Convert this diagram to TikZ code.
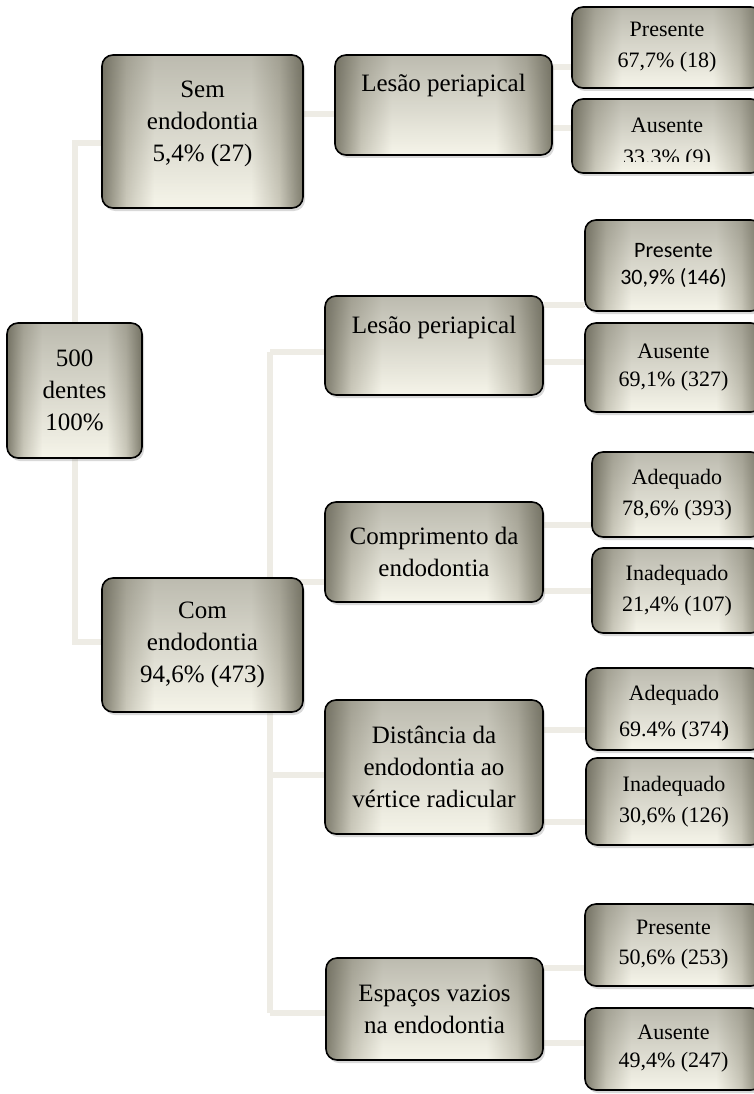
\documentclass[tikz,border=0pt]{standalone}
\usepackage{fontspec}
\setmainfont{Liberation Serif}
\newfontfamily\calibrifont{Carlito}
\usepackage{tikz}
\usetikzlibrary{shadows,fadings,backgrounds}

\definecolor{boxedge}{RGB}{128,126,111}
\definecolor{boxmid}{RGB}{204,202,188}
\definecolor{boxlight}{RGB}{246,245,234}
\definecolor{boxshade}{RGB}{95,93,80}
\definecolor{connlight}{RGB}{238,236,229}
\definecolor{conndark}{RGB}{204,202,193}

% light centre, grey sides
\pgfdeclarehorizontalshading{boxshading}{100bp}{
    color(0bp)=(boxedge); color(25bp)=(boxedge);
    color(31bp)=(boxmid); color(38bp)=(boxlight);
    color(62bp)=(boxlight); color(69bp)=(boxmid);
    color(75bp)=(boxedge); color(100bp)=(boxedge)}

\begin{document}
\begin{tikzpicture}[
    x=1pt, y=-1pt,
    box/.style={
        rounded corners=11pt,
        draw=black,
        line width=1.6pt,
        drop shadow={shadow xshift=2pt, shadow yshift=-3pt, opacity=.3},
        preaction={shade, shading=boxshading},
        preaction={fill=boxshade, path fading=south, fill opacity=.38},
        inner sep=0pt,
        align=center,
        text=black,
        font=\fontsize{25}{32}\selectfont
    },
    leaf/.style={
        box,
        font=\fontsize{22}{31}\selectfont
    },
    leaftext/.style={
        inner sep=0pt,
        align=center,
        text=black,
        font=\fontsize{22}{32}\selectfont
    },
    conn/.style={
        line width=6pt,
        draw=connlight,
        preaction={draw=conndark, transform canvas={shift={(1pt,-1.5pt)}}}
    }
]

\useasboundingbox (0,0) rectangle (754,1094);
\clip (0,0) rectangle (754,1094);

% ---------------- RAIZ ----------------

\node[box, minimum width=135pt, minimum height=135pt]
    (root) at (74.5,390.5) {500\\dentes\\100\%};

\node[box, minimum width=201pt, minimum height=153pt]
    (sem) at (202.5,131.5) {Sem\\endodontia\\5,4\% (27)\\[-12pt]\mbox{}};

\node[box, minimum width=201pt, minimum height=134pt]
    (com) at (202.5,645) {Com\\endodontia\\94,6\% (473)};


% ---------------- SEM ENDODONTIA ----------------

\node[box, minimum width=217pt, minimum height=100pt,
    text height=37pt, text depth=63pt]
    (les1) at (443.5,105) {Lesão periapical};

\node[leaf, minimum width=190pt, minimum height=81pt]
    (pres1) at (667,47.5) {Presente\\67,7\% (18)};

\node[leaf, minimum width=190pt, minimum height=74pt,
    path picture={
        \clip ([yshift=11pt]path picture bounding box.south west)
            rectangle (path picture bounding box.north east);
        \node[leaftext] (aus1txt)
            at ([yshift=-8pt]path picture bounding box.center)
            {Ausente\\33.3\% (9)};
    }]
    (aus1) at (667,136) {};


% ---------------- COM ENDODONTIA ----------------

% Lesao periapical
\node[box, minimum width=218pt, minimum height=99pt,
    text height=37pt, text depth=62pt]
    (les2) at (434,345.5) {Lesão periapical};

\node[leaf, minimum width=177pt, minimum height=91pt,
    font=\calibrifont\fontsize{22}{27}\selectfont]
    (pres2) at (673.5,265.5) {Presente\\30,9\% (146)};

\node[leaf, minimum width=177pt, minimum height=89pt,
    font=\fontsize{22}{28}\selectfont]
    (aus2) at (673.5,367.5) {Ausente\\69,1\% (327)};

% Comprimento
\node[box, minimum width=218pt, minimum height=100pt]
    (comp) at (434,552) {Comprimento da\\endodontia};

\node[leaf, minimum width=170pt, minimum height=85pt]
    (ade1) at (677,494.5) {Adequado\\78,6\% (393)};

\node[leaf, minimum width=170pt, minimum height=85pt]
    (inad1) at (677,590.5) {Inadequado\\21,4\% (107)};

% Distancia
\node[box, minimum width=218pt, minimum height=134pt]
    (dist) at (434,767) {Distância da\\endodontia ao\\vértice radicular};

\node[leaf, minimum width=176pt, minimum height=82pt,
    path picture={
        \clip ([yshift=12pt]path picture bounding box.south west)
            rectangle (path picture bounding box.north east);
        \node[leaftext, font=\fontsize{22}{36}\selectfont] (ade2txt)
            at ([yshift=-4.5pt]path picture bounding box.center)
            {Adequado\\69.4\% (374)};
    }]
    (ade2) at (674,709) {};

\node[leaftext, font=\fontsize{22}{36}\selectfont] (ade2paren)
    at ([yshift=-4.5pt]ade2.center)
    {\phantom{Adequado}\\\phantom{69.4\% (374})};

\node[leaf, minimum width=176pt, minimum height=87pt]
    (inad2) at (674,801.5) {Inadequado\\30,6\% (126)};

% Espacos vazios
\node[box, minimum width=217pt, minimum height=102pt]
    (esp) at (434.5,1009) {Espaços vazios\\na endodontia};

\node[leaf, minimum width=177pt, minimum height=82pt,
    font=\fontsize{22}{30}\selectfont]
    (pres3) at (673.5,945) {Presente\\50,6\% (253)};

\node[leaf, minimum width=177pt, minimum height=82pt,
    font=\fontsize{22}{28}\selectfont]
    (aus3) at (673.5,1049) {Ausente\\49,4\% (247)};


% ---------------- LIGACOES ----------------

\begin{pgfonlayer}{background}

\coordinate (bus) at (270,352);
\coordinate (busend) at (270,1013);

\draw[conn] (root.north) |- (sem.west |- 0,143);
\draw[conn] (root.south) |- (com.west |- 0,642);

\draw[conn] (sem.east |- 0,114) -- (les1.west |- 0,114);
\draw[conn] (les1.east |- 0,67) -- (pres1.west |- 0,67);
\draw[conn] (les1.east |- 0,128) -- (aus1.west |- 0,128);

\draw[conn] (bus) -- (busend);
\draw[conn] (bus) -- (les2.west |- bus);
\draw[conn] (bus |- 0,582) -- (comp.west |- 0,582);
\draw[conn] (bus |- 0,775) -- (dist.west |- 0,775);
\draw[conn] (busend) -- (esp.west |- busend);

\draw[conn] (les2.east |- 0,305) -- (pres2.west |- 0,305);
\draw[conn] (les2.east |- 0,362) -- (aus2.west |- 0,362);
\draw[conn] (comp.east |- 0,525) -- (ade1.west |- 0,525);
\draw[conn] (comp.east |- 0,591) -- (inad1.west |- 0,591);
\draw[conn] (dist.east |- 0,730) -- (ade2.west |- 0,730);
\draw[conn] (dist.east |- 0,822) -- (inad2.west |- 0,822);
\draw[conn] (esp.east |- 0,968) -- (pres3.west |- 0,968);
\draw[conn] (esp.east |- 0,1043) -- (aus3.west |- 0,1043);

\end{pgfonlayer}

\end{tikzpicture}
\end{document}
